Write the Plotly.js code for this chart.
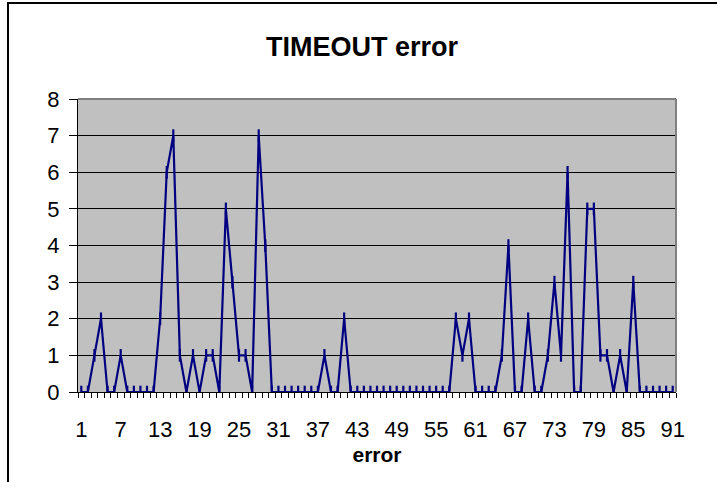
<!DOCTYPE html>
<html>
<head>
<meta charset="utf-8">
<script src="https://cdn.plot.ly/plotly-3.0.1.min.js"></script>
<style>
  html, body { margin: 0; padding: 0; background: #ffffff; }
  #wrap { position: relative; width: 717px; height: 482px; overflow: hidden; }
  #chart { position: absolute; left: 0; top: 0; width: 717px; height: 482px; }
  #frame { position: absolute; left: 7px; top: 2px; width: 800px; height: 600px;
           border-left: 2px solid #000; border-top: 2px solid #000; pointer-events: none; }
</style>
</head>
<body>
<div id="wrap">
  <div id="chart"></div>
  <div id="frame"></div>
</div>
<script>
// category index 1..91
const categories = Array.from({length: 91}, (_, i) => i + 1);

// TIMEOUT error counts
const values = [
  0, 0, 1, 2, 0, 0, 1, 0, 0, 0,   // 1-10
  0, 0, 2, 6, 7, 1, 0, 1, 0, 1,   // 11-20
  1, 0, 5, 3, 1, 1, 0, 7, 4, 0,   // 21-30
  0, 0, 0, 0, 0, 0, 0, 1, 0, 0,   // 31-40
  2, 0, 0, 0, 0, 0, 0, 0, 0, 0,   // 41-50
  0, 0, 0, 0, 0, 0, 0, 2, 1, 2,   // 51-60
  0, 0, 0, 0, 1, 4, 0, 0, 2, 0,   // 61-70
  0, 1, 3, 1, 6, 0, 0, 5, 5, 1,   // 71-80
  1, 0, 1, 0, 3, 0, 0, 0, 0, 0,   // 81-90
  0                               // 91
];

const xTickVals = [1, 7, 13, 19, 25, 31, 37, 43, 49, 55, 61, 67, 73, 79, 85, 91];
const xTickText = xTickVals.map(String);
const yTickVals = [0, 1, 2, 3, 4, 5, 6, 7, 8];

const FONT = '"Liberation Sans", Arial, sans-serif';

const trace = {
  x: categories,
  y: values,
  type: 'scatter',
  mode: 'lines+markers',
  line: { color: '#000080', width: 2.2 },
  marker: { symbol: 'line-ns', size: 9, color: '#000080', line: { color: '#000080', width: 2.2 } },
  hoverinfo: 'x+y'
};

const layout = {
  width: 717,
  height: 482,
  margin: { l: 78, r: 41, t: 99, b: 90 },
  paper_bgcolor: '#ffffff',
  plot_bgcolor: '#C0C0C0',
  showlegend: false,
  font: { family: FONT, color: '#000', size: 22 },
  title: {
    text: '<b>TIMEOUT error</b>',
    font: { family: FONT, size: 27, color: '#000' },
    xref: 'container', x: 0.505, xanchor: 'center',
    yref: 'container', y: 1 - 47 / 482, yanchor: 'middle'
  },
  xaxis: {
    range: [0.5, 91.5],
    tickmode: 'array',
    tickvals: xTickVals,
    ticktext: xTickText,
    ticks: '',
    ticklabelstandoff: 18,
    tickfont: { family: FONT, size: 22, color: '#000' },
    showgrid: false,
    zeroline: false,
    showline: true,
    linecolor: '#000',
    linewidth: 1,
    minor: { tick0: 0.5, dtick: 1, ticks: 'outside', ticklen: 5, tickcolor: '#000', tickwidth: 1, showgrid: false },
    title: { text: '<b>error</b>', font: { family: FONT, size: 21, color: '#000' }, standoff: 5 },
    fixedrange: true
  },
  yaxis: {
    range: [0, 8],
    tickmode: 'array',
    tickvals: yTickVals,
    ticks: 'outside',
    ticklen: 8,
    tickcolor: '#000',
    tickwidth: 1,
    ticklabelstandoff: 5,
    tickfont: { family: FONT, size: 22, color: '#000' },
    showgrid: true,
    gridcolor: '#000',
    gridwidth: 1,
    zeroline: false,
    showline: true,
    linecolor: '#000',
    linewidth: 1,
    fixedrange: true
  },
  shapes: [
    { type: 'line', xref: 'paper', yref: 'paper', x0: 0, x1: 1, y0: 1, y1: 1,
      line: { color: '#808080', width: 2 }, layer: 'above' },
    { type: 'line', xref: 'paper', yref: 'paper', x0: 1, x1: 1, y0: 0, y1: 1,
      line: { color: '#808080', width: 2 }, layer: 'above' }
  ]
};

Plotly.newPlot('chart', [trace], layout, { displayModeBar: false, staticPlot: true });
</script>
</body>
</html>
